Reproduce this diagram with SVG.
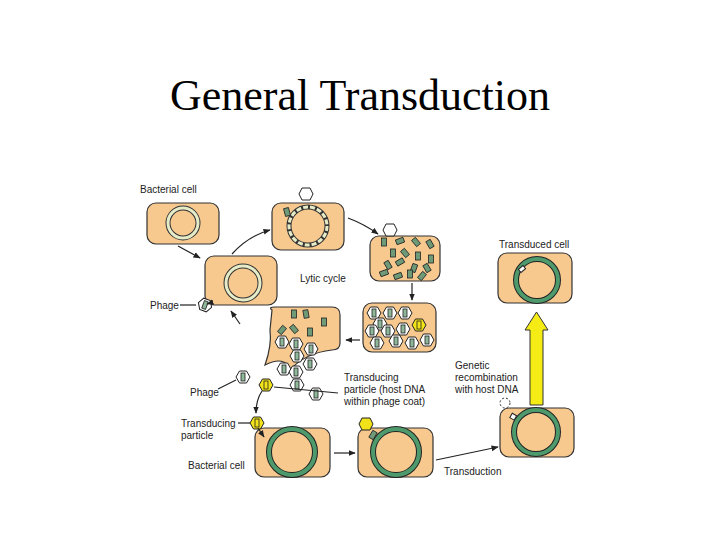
<svg xmlns="http://www.w3.org/2000/svg" width="720" height="540" viewBox="0 0 720 540">
<defs>
<marker id="ah" viewBox="0 0 10 10" refX="9" refY="5" markerWidth="6" markerHeight="6" orient="auto"><path d="M0,1 L10,5 L0,9 z" fill="#222"/></marker>
<g id="ph"><polygon points="-7,0 -3.5,-6 3.5,-6 7,0 3.5,6 -3.5,6" fill="#fff" stroke="#222" stroke-width="1"/><rect x="-2" y="-4" width="4" height="8" fill="#8fb89a" stroke="#222" stroke-width="0.8"/></g>
<g id="phy"><polygon points="-7,0 -3.5,-6 3.5,-6 7,0 3.5,6 -3.5,6" fill="#f2e21a" stroke="#222" stroke-width="1"/><rect x="-2" y="-4" width="4" height="8" fill="#f2e21a" stroke="#222" stroke-width="0.8"/></g>
<rect id="fr" x="-2.5" y="-4" width="5" height="8" fill="#6e9a78" stroke="#222" stroke-width="0.8"/>
</defs>
<style>
.cell{fill:#f7c98f;stroke:#333;stroke-width:1.2}
.ring{fill:none;stroke:#333;stroke-width:5}
.ringin{fill:none;stroke:#e6ecc8;stroke-width:3}
.gring{fill:none;stroke:#222;stroke-width:6}
.gin{fill:none;stroke:#4e9a6c;stroke-width:4}
.lbl{font-family:"Liberation Sans",Arial,sans-serif;font-size:10px;fill:#222}
.con{fill:none;stroke:#222;stroke-width:1.2}
</style>
<rect width="720" height="540" fill="#fff"/>
<text x="360" y="110" text-anchor="middle" font-family="Liberation Serif,Times New Roman,serif" font-size="44" fill="#000">General Transduction</text>

<g id="cell1"><rect class="cell" x="147" y="203" width="72" height="41" rx="9"/><circle class="ring" cx="183" cy="223" r="15"/><circle class="ringin" cx="183" cy="223" r="15"/></g>
<g id="cell2"><rect class="cell" x="205" y="256" width="72" height="49" rx="9"/><circle class="ring" cx="243" cy="283" r="17"/><circle class="ringin" cx="243" cy="283" r="17"/></g>
<g id="cell3"><rect class="cell" x="272" y="203" width="72" height="47" rx="9"/><circle class="ring" cx="308" cy="226" r="19"/><circle class="ringin" cx="308" cy="226" r="19" stroke-dasharray="5 2"/><use href="#fr" x="287" y="212" transform="rotate(-15 287 212)"/><polygon points="299,194 302,188 310,188 313,194 310,200 302,200" fill="#fff" stroke="#222"/></g>
<g id="cell4"><rect class="cell" x="370" y="236" width="70" height="45" rx="9"/><polygon points="383,230 386,224 394,224 397,230 394,236 386,236" fill="#fff" stroke="#222"/>
<use href="#fr" x="384" y="242"/><use href="#fr" x="400" y="241" transform="rotate(70 400 241)"/><use href="#fr" x="416" y="242" transform="rotate(-40 416 242)"/><use href="#fr" x="430" y="244" transform="rotate(-30 430 244)"/><use href="#fr" x="393" y="253"/><use href="#fr" x="405" y="253" transform="rotate(-40 405 253)"/><use href="#fr" x="418" y="256"/><use href="#fr" x="431" y="259"/><use href="#fr" x="388" y="265" transform="rotate(-30 388 265)"/><use href="#fr" x="400" y="262" transform="rotate(60 400 262)"/><use href="#fr" x="414" y="268" transform="rotate(20 414 268)"/><use href="#fr" x="427" y="268" transform="rotate(-30 427 268)"/><use href="#fr" x="384" y="273" transform="rotate(70 384 273)"/><use href="#fr" x="398" y="276" transform="rotate(70 398 276)"/><use href="#fr" x="410" y="274"/><use href="#fr" x="422" y="276" transform="rotate(40 422 276)"/></g>
<g id="cell5"><rect class="cell" x="363" y="303" width="73" height="49" rx="9"/>
<use href="#ph" x="374" y="313"/><use href="#ph" x="390" y="313"/><use href="#ph" x="405" y="313"/><use href="#ph" x="380" y="324"/><use href="#ph" x="372" y="331"/><use href="#ph" x="388" y="331"/><use href="#ph" x="403" y="329"/><use href="#phy" x="419" y="325"/><use href="#ph" x="377" y="343"/><use href="#ph" x="396" y="341"/><use href="#ph" x="412" y="343"/><use href="#ph" x="427" y="340"/></g>
<g id="lysed"><path class="cell" d="M272,310 Q268,307 275,307 L332,307 Q340,307 340,315 L340,343 Q340,350 332,350 Q305,353 290,370 Q285,355 265,365 Q272,345 270,330 Z" stroke="#333"/>
<use href="#fr" x="294" y="314"/><use href="#fr" x="306" y="314" transform="rotate(-10 306 314)"/><use href="#fr" x="324" y="322"/><use href="#fr" x="282" y="330" transform="rotate(40 282 330)"/><use href="#fr" x="294" y="329" transform="rotate(-40 294 329)"/><use href="#fr" x="310" y="332"/>
<use href="#ph" x="282" y="342"/><use href="#ph" x="296" y="344"/><use href="#ph" x="311" y="349"/><use href="#ph" x="297" y="356"/><use href="#ph" x="310" y="364"/><use href="#ph" x="284" y="369"/><use href="#ph" x="296" y="372"/><use href="#ph" x="297" y="385"/></g>
<g id="cell7"><rect class="cell" x="255" y="428" width="75" height="49" rx="9"/><circle class="gring" cx="292" cy="452" r="23"/><circle class="gin" cx="292" cy="452" r="23"/></g>
<g id="cell8"><rect class="cell" x="358" y="428" width="75" height="49" rx="9"/><circle class="gring" cx="396" cy="452" r="23"/><circle class="gin" cx="396" cy="452" r="23"/><use href="#fr" x="373" y="435" transform="rotate(30 373 435)"/><polygon points="359,424 362,418 370,418 373,424 370,430 362,430" fill="#f2e21a" stroke="#222"/></g>
<g id="cell9"><rect class="cell" x="500" y="408" width="74" height="49" rx="9"/><circle class="gring" cx="536" cy="432" r="22"/><circle class="gin" cx="536" cy="432" r="22"/><circle cx="505" cy="403" r="5" fill="none" stroke="#333" stroke-dasharray="2 2"/><rect x="511" y="414" width="5" height="5" fill="#fff" stroke="#222" transform="rotate(30 513 416)"/></g>
<g id="cell10"><rect class="cell" x="498" y="253" width="74" height="50" rx="9"/><circle class="gring" cx="537" cy="280" r="21"/><circle class="gin" cx="537" cy="280" r="21"/><rect x="519" y="267" width="6" height="4" fill="#fff" stroke="#222" transform="rotate(-40 522 269)"/></g>
<g id="free"><use href="#ph" x="205" y="305" transform="rotate(20 205 305)"/><use href="#ph" x="243" y="377"/><use href="#phy" x="266" y="385"/><use href="#ph" x="316" y="394"/><use href="#phy" x="257" y="423"/></g>

<g id="connectors">
<path class="con" d="M178,246 L200,258" marker-end="url(#ah)"/>
<path class="con" d="M232,254 Q248,236 270,230" marker-end="url(#ah)"/>
<path class="con" d="M348,218 Q364,224 378,234" marker-end="url(#ah)"/>
<path class="con" d="M412,283 L412,300" marker-end="url(#ah)"/>
<path class="con" d="M360,340 L346,340" marker-end="url(#ah)"/>
<path class="con" d="M240,324 L231,311" marker-end="url(#ah)"/>
<path class="con" d="M213,302 L207,304" marker-end="url(#ah)"/>
<path class="con" d="M180,305 L196,305"/>
<path class="con" d="M218,389 L236,380"/>
<path class="con" d="M274,387 L338,393"/>
<path class="con" d="M262,391 Q256,400 256,413" marker-end="url(#ah)"/>
<path class="con" d="M238,423 L250,423"/>
<path class="con" d="M258,428 L264,437" marker-end="url(#ah)"/>
<path class="con" d="M334,453 L355,453" marker-end="url(#ah)"/>
<path class="con" d="M436,460 L498,447" marker-end="url(#ah)"/>
<path d="M530,405 L530,330 L525,330 L536.5,312 L548,330 L543,330 L543,405 Z" fill="#f4ec14" stroke="#333" stroke-width="1"/>
</g>

<text class="lbl" x="140" y="193">Bacterial cell</text>
<text class="lbl" x="300" y="282">Lytic cycle</text>
<text class="lbl" x="150" y="309">Phage</text>
<text class="lbl" x="190" y="396">Phage</text>
<text class="lbl" x="344" y="381">Transducing</text>
<text class="lbl" x="344" y="393">particle (host DNA</text>
<text class="lbl" x="344" y="405">within phage coat)</text>
<text class="lbl" x="455" y="369">Genetic</text>
<text class="lbl" x="455" y="381">recombination</text>
<text class="lbl" x="455" y="393">with host DNA</text>
<text class="lbl" x="181" y="427">Transducing</text>
<text class="lbl" x="181" y="439">particle</text>
<text class="lbl" x="188" y="469">Bacterial cell</text>
<text class="lbl" x="444" y="475">Transduction</text>
<text class="lbl" x="499" y="248">Transduced cell</text>
</svg>
